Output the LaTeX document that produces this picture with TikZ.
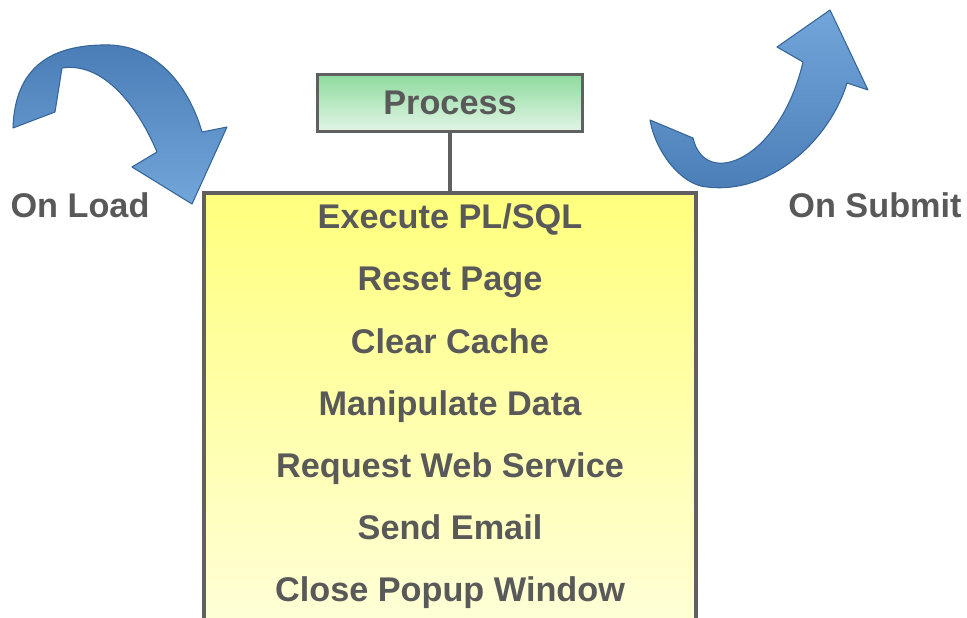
\documentclass[tikz,border=0pt]{standalone}
\usepackage{fontspec}
\setmainfont{Liberation Sans}
\usetikzlibrary{positioning}
\definecolor{txtgray}{HTML}{595959}
\definecolor{boxgray}{HTML}{606060}
\definecolor{ribbondark}{HTML}{4A7DB6}
\definecolor{ribbonedge}{HTML}{356598}
\definecolor{ribbonlight}{HTML}{72A6DA}

\begin{document}
\begin{tikzpicture}[x=0.02cm,y=-0.02cm,
  label/.style={text=txtgray,font=\fontsize{19.5}{23}\selectfont\bfseries},
  procbox/.style={draw=boxgray,line width=2pt,inner sep=0pt,
    minimum width=5.3cm,minimum height=1.14cm,
    top color={rgb,255:red,142;green,219;blue,158},bottom color={rgb,255:red,226;green,245;blue,230}},
  actbox/.style={draw=boxgray,line width=2pt,inner sep=0pt,
    minimum width=9.84cm,minimum height=9.2cm,
    top color={rgb,255:red,255;green,255;blue,125},bottom color={rgb,255:red,255;green,255;blue,222}},
  ribbon/.style={draw=ribbonedge,line width=0.6pt,line join=round}]
  \useasboundingbox (0,0) rectangle (967,618);
  \clip (0,0) rectangle (967,618);

  % process and its actions
  \node[procbox,label] (process) at (450,103) {Process};
  \node[actbox,anchor=north] (actions) [below=1.16cm of process] {};
  \draw[boxgray,line width=2pt] (process) -- (actions);

  \foreach \txt [count=\i] in {Execute PL/SQL,Reset Page,Clear Cache,Manipulate Data,
      Request Web Service,Send Email,Close Popup Window}
    \node[label,anchor=base] (item\i) at (450,167+62*\i) {\txt};

  % the two events
  \node[label,anchor=base] (onload) at (80,218) {On Load};
  \node[label,anchor=base] (onsubmit) at (875,218) {On Submit};

  % curved ribbon arrows
  \path[ribbon,top color=ribbondark,bottom color=ribbonlight]
    (13,128) .. controls (15,60) and (60,44) .. (110,45)
             .. controls (160,47) and (190,90) .. (202,132)
    -- (227,127) -- (192,204) -- (132,167) -- (157,152)
             .. controls (135,100) and (100,62) .. (62,68)
    -- (55,112) -- cycle;
  \path[ribbon,top color=ribbonlight,bottom color=ribbondark]
    (650,120) -- (693,138)
             .. controls (705,190) and (780,160) .. (803,62)
    -- (777,47) -- (830,10) -- (868,90) -- (847,83)
             .. controls (830,140) and (770,195) .. (707,187)
             .. controls (680,185) and (655,150) .. (650,120) -- cycle;
\end{tikzpicture}
\end{document}
